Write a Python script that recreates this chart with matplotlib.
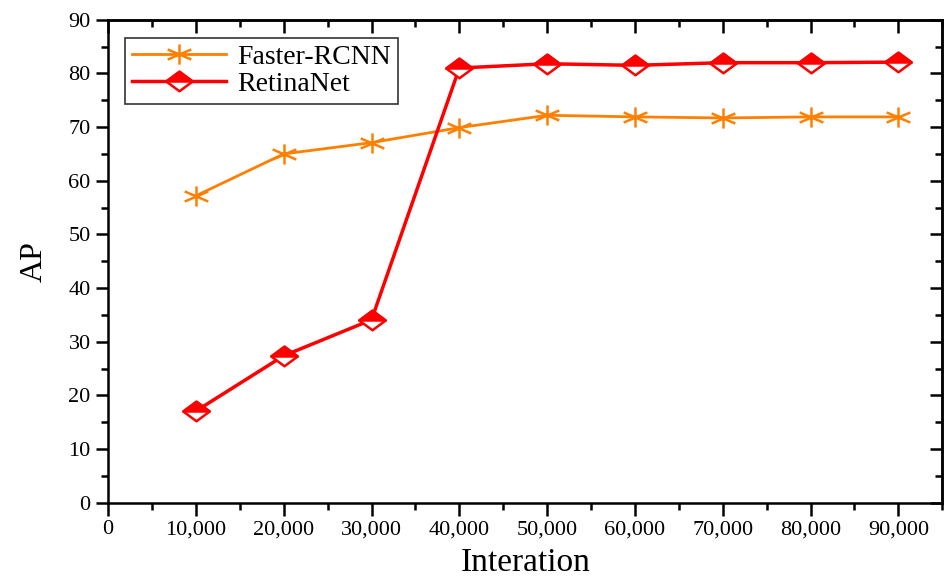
import matplotlib
matplotlib.use("Agg")
import matplotlib.pyplot as plt
from matplotlib.legend_handler import HandlerTuple
from matplotlib.path import Path
from matplotlib.ticker import FuncFormatter, MultipleLocator

plt.rcParams["font.family"] = ["Liberation Serif", "DejaVu Serif"]

iterations = [10000, 20000, 30000, 40000, 50000, 60000, 70000, 80000, 90000]
faster_rcnn = [57.2, 65.0, 67.1, 69.9, 72.2, 71.9, 71.7, 71.9, 71.9]
retinanet = [17.1, 27.4, 34.1, 81.0, 81.8, 81.5, 82.0, 82.0, 82.1]

# markers in the source are a bit wider than tall
W = 1.35
diamond = Path([(-W, 0), (0, 1), (W, 0), (0, -1), (-W, 0)],
               [Path.MOVETO, Path.LINETO, Path.LINETO, Path.LINETO, Path.CLOSEPOLY])
top_half = Path([(-W, 0), (0, 1), (W, 0), (-W, 0)],
                [Path.MOVETO, Path.LINETO, Path.LINETO, Path.CLOSEPOLY])
dx = W * 0.866
star = Path([(0, -1), (0, 1), (-dx, -0.5), (dx, 0.5), (-dx, 0.5), (dx, -0.5)],
            [Path.MOVETO, Path.LINETO] * 3)

fig = plt.figure(figsize=(9.48, 5.8), dpi=100)
ax = fig.add_axes([0.114, 0.133, 0.88, 0.833])

l1, = ax.plot(iterations, faster_rcnn, color="#FF8000", lw=2, marker=star,
              markersize=17, markeredgewidth=1.8, markerfacecolor="none")
l2, = ax.plot(iterations, retinanet, color="#FF0000", lw=2.5, marker=diamond,
              markersize=19, markerfacecolor="white", markeredgewidth=1.8)
l3, = ax.plot(iterations, retinanet, ls="none", marker=top_half,
              markersize=19, color="#FF0000", markeredgewidth=1.8)

ax.set_xlim(0, 95000)
ax.set_ylim(0, 90)
ax.xaxis.set_major_locator(MultipleLocator(10000))
ax.xaxis.set_minor_locator(MultipleLocator(5000))
ax.yaxis.set_major_locator(MultipleLocator(10))
ax.yaxis.set_minor_locator(MultipleLocator(5))
ax.xaxis.set_major_formatter(FuncFormatter(lambda v, p: f"{int(v):,}"))

for s in ax.spines.values():
    s.set_linewidth(1.8)
ax.tick_params(which="both", direction="out", width=1.8, labelsize=16,
               top=False, right=False)
ax.tick_params(which="major", length=9)
ax.tick_params(which="minor", length=5)

# mirrored inward ticks on top/right
for pos in ("top", "right"):
    sec = ax.secondary_xaxis("top") if pos == "top" else ax.secondary_yaxis("right")
    axis = sec.xaxis if pos == "top" else sec.yaxis
    step = (10000, 5000) if pos == "top" else (10, 5)
    axis.set_major_locator(MultipleLocator(step[0]))
    axis.set_minor_locator(MultipleLocator(step[1]))
    sec.tick_params(which="both", direction="in", width=1.8, labelleft=False,
                    labelright=False, labeltop=False, labelbottom=False)
    sec.tick_params(which="major", length=9)
    sec.tick_params(which="minor", length=5)
    sec.spines[pos].set_linewidth(1.8)

ax.set_xlabel("Interation", fontsize=24, labelpad=6)
ax.set_ylabel("AP", fontsize=23, labelpad=14)

leg = ax.legend([l1, (l2, l3)], ["Faster-RCNN", "RetinaNet"],
                handler_map={tuple: HandlerTuple(ndivide=1)},
                loc="upper left", bbox_to_anchor=(0.02, 0.963), fontsize=20,
                frameon=True, fancybox=False, handlelength=3.4,
                borderpad=0.25, labelspacing=0.05, handletextpad=0.4,
                borderaxespad=0)
leg.get_frame().set_edgecolor("black")
leg.get_frame().set_linewidth(1.2)

fig.savefig("out.png", dpi=100)
